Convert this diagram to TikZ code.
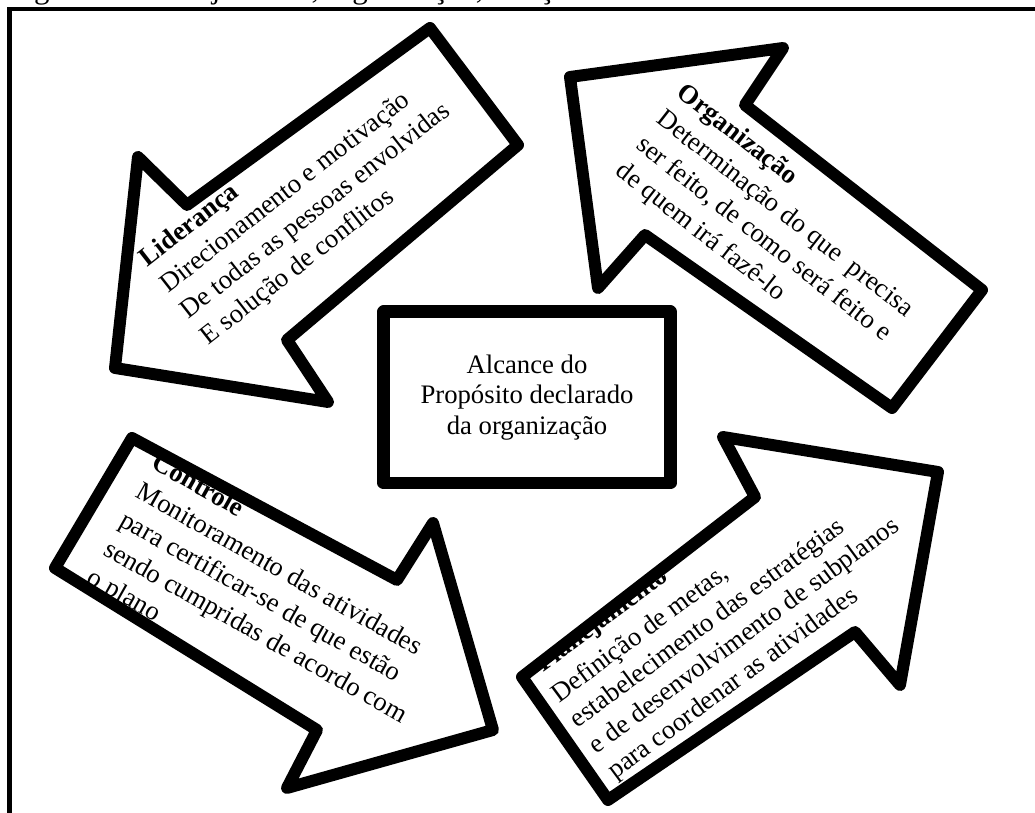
\documentclass[tikz,border=0pt]{standalone}
\usepackage{fontspec}
\setmainfont{Liberation Serif}
\usetikzlibrary{positioning}
\tikzstyle{bigarrow}=[line width=8.5pt, line join=round, color=black]

\begin{document}
\begin{tikzpicture}[x=0.025cm, y=0.025cm,
  armtext/.style={font=\fontsize{19}{23.5}\selectfont, align=left,
                  inner sep=0pt, anchor=north west},
  goalbox/.style={draw, line width=9.2pt, line join=round,
                  minimum width=7.15cm, minimum height=4.275cm,
                  align=center, font=\fontsize{19}{21.7}\selectfont}
]
\useasboundingbox (0,0) rectangle (1035,813);
\begin{scope}
\clip (0,0) rectangle (1035,813);
\node[anchor=base west, inner sep=0pt, font=\fontsize{22}{25}\selectfont] (caption) at (8,814.5)
  {Figura 1 -- Planejamento, organização, direção e controle};
\end{scope}
\draw[line width=2.85pt] (9.5,0) -- (9.5,804) -- (1035,804);

\node[goalbox] (goal) at (527,415.5) {Alcance do\\Propósito declarado\\da organização};

\node[armtext, rotate=38] (lidtext) at (135.9,560.2)
  {\textbf{Liderança}\\Direcionamento e motivação\\De todas as pessoas envolvidas\\E solução de conflitos};
\node[armtext, rotate=-38] (orgtext) at (687.1,732.2)
  {\textbf{Organização}\\Determinação do que~ precisa\\ser feito, de como será feito e\\de quem irá fazê-lo};
\node[armtext, rotate=-29.5] (ctltext) at (159.9,361.7)
  {\textbf{Controle}\\Monitoramento das atividades\\para certificar-se de que estão\\sendo cumpridas de acordo com\\o plano};
\begin{scope}
\clip[rotate around={36.5:(543,140)}] (493,110) rectangle (843,147);
\node[armtext, anchor=base west, rotate=36.5] (platitle) at (543,140) {\textbf{Planejamento}};
\end{scope}
\node[armtext, rotate=36.5, font=\fontsize{19}{22.5}\selectfont] (platext) at (547.5,125)
  {Definição de metas,\\estabelecimento das estratégias\\e de desenvolvimento de subplanos\\para coordenar as atividades};

\draw[bigarrow] (430,785) -- (187,608) -- (138,656) -- (115,445) -- (328,411) -- (287,473) -- (518,668) -- cycle;
\draw[bigarrow] (570,736) -- (783,765) -- (745,708) -- (982,523) -- (892,405) -- (645,578) -- (598,525) -- cycle;
\draw[bigarrow] (132,375) -- (397,233) -- (433,290) -- (493,83) -- (287,25) -- (317,83) -- (55,245) -- cycle;
\draw[bigarrow] (608,13) -- (522,136) -- (755,316) -- (723,376) -- (938,341) -- (900,128) -- (855,181) -- cycle;
\end{tikzpicture}
\end{document}
